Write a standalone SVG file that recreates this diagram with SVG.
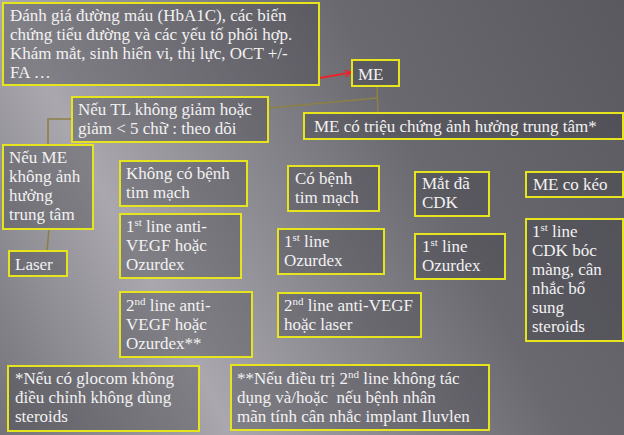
<svg xmlns="http://www.w3.org/2000/svg" width="624" height="435" viewBox="0 0 624 435">
<defs>
<linearGradient id="bg" gradientUnits="userSpaceOnUse" x1="-179" y1="95" x2="488" y2="-258">
<stop offset="0" stop-color="#737279"/>
<stop offset="0.27" stop-color="#aaa8ae"/>
<stop offset="0.45" stop-color="#8c8a91"/>
<stop offset="0.66" stop-color="#6a6970"/>
<stop offset="1" stop-color="#5a5960"/>
</linearGradient>
<marker id="arr" viewBox="0 0 10 10" refX="9" refY="5" markerWidth="7" markerHeight="7" orient="auto" markerUnits="userSpaceOnUse">
<path d="M0,0 L10,5 L0,10" fill="none" stroke="#e8262a" stroke-width="1.8"/>
</marker>
</defs>
<style>
.box{fill:#3e3e48;fill-opacity:0.38;stroke:#e6e41c;stroke-width:2}
.t text{font-size:17px;fill:#f2f2f2}
.sup{font-size:11px}
.conn{fill:none;stroke:#8e7f45;stroke-width:1.6}
</style>
<rect width="624" height="435" fill="url(#bg)"/>

<g id="connectors">
<line class="conn" x1="377" y1="86" x2="378" y2="113"/>
<line class="conn" x1="377" y1="98" x2="269" y2="108"/>
<polyline class="conn" points="72,119 48,119 48,145"/>
<line class="conn" x1="49" y1="229" x2="47" y2="251"/>
<line x1="320" y1="78" x2="351" y2="72.5" stroke="#e8262a" stroke-width="1.8" marker-end="url(#arr)"/>
</g>

<g class="t" font-family="'Liberation Serif', 'Times New Roman', serif">
<g id="n-danhgia">
<rect class="box" x="3" y="3" width="316" height="82"/>
<text x="10" y="21">Đánh giá đường máu (HbA1C), các biến</text>
<text x="10" y="40">chứng tiểu đường và các yếu tố phối hợp.</text>
<text x="10" y="59">Khám mắt, sinh hiển vi, thị lực, OCT +/-</text>
<text x="10" y="78">FA …</text>
</g>

<g id="n-me">
<rect class="box" x="352" y="60" width="47" height="26"/>
<text x="358" y="80">ME</text>
</g>

<g id="n-me-trieuchung">
<rect class="box" x="304" y="113" width="319" height="26"/>
<text x="314" y="132">ME có triệu chứng ảnh hưởng trung tâm*</text>
</g>

<g id="n-tl">
<rect class="box" x="72" y="97" width="196" height="45"/>
<text x="78" y="115">Nếu TL không giảm hoặc</text>
<text x="78" y="134">giảm &lt; 5 chữ : theo dõi</text>
</g>

<g id="n-me-khong">
<rect class="box" x="3" y="145" width="90" height="84"/>
<text x="9" y="163">Nếu ME</text>
<text x="9" y="182">không ảnh</text>
<text x="9" y="201">hưởng</text>
<text x="9" y="220">trung tâm</text>
</g>

<g id="n-laser">
<rect class="box" x="9" y="251" width="58" height="25"/>
<text x="15" y="270">Laser</text>
</g>

<g id="n-khong-tim">
<rect class="box" x="120" y="161" width="127" height="45"/>
<text x="126" y="179">Không có bệnh</text>
<text x="126" y="198">tim mạch</text>
</g>

<g id="n-1st-antivegf">
<rect class="box" x="120" y="214" width="121" height="64"/>
<text x="126" y="232">1<tspan class="sup" dy="-6">st</tspan><tspan dy="6"> line anti-</tspan></text>
<text x="126" y="251">VEGF hoặc</text>
<text x="126" y="270">Ozurdex</text>
</g>

<g id="n-2nd-antivegf">
<rect class="box" x="120" y="292" width="132" height="65"/>
<text x="126" y="311">2<tspan class="sup" dy="-6">nd</tspan><tspan dy="6"> line anti-</tspan></text>
<text x="126" y="330">VEGF hoặc</text>
<text x="126" y="349">Ozurdex**</text>
</g>

<g id="n-co-tim">
<rect class="box" x="288" y="166" width="91" height="45"/>
<text x="295" y="184">Có bệnh</text>
<text x="295" y="203">tim mạch</text>
</g>

<g id="n-1st-ozurdex-a">
<rect class="box" x="278" y="229" width="106" height="45"/>
<text x="284" y="247">1<tspan class="sup" dy="-6">st</tspan><tspan dy="6"> line</tspan></text>
<text x="284" y="266">Ozurdex</text>
</g>

<g id="n-2nd-laser">
<rect class="box" x="278" y="293" width="143" height="44"/>
<text x="284" y="311">2<tspan class="sup" dy="-6">nd</tspan><tspan dy="6"> line anti-VEGF</tspan></text>
<text x="284" y="330">hoặc laser</text>
</g>

<g id="n-mat-cdk">
<rect class="box" x="415" y="172" width="74" height="44"/>
<text x="422" y="189">Mắt đã</text>
<text x="422" y="208">CDK</text>
</g>

<g id="n-1st-ozurdex-b">
<rect class="box" x="415" y="234" width="90" height="45"/>
<text x="422" y="252">1<tspan class="sup" dy="-6">st</tspan><tspan dy="6"> line</tspan></text>
<text x="422" y="271">Ozurdex</text>
</g>

<g id="n-me-cokeo">
<rect class="box" x="526" y="172" width="97" height="25"/>
<text x="533" y="190">ME co kéo</text>
</g>

<g id="n-1st-cdk">
<rect class="box" x="526" y="219" width="97" height="122"/>
<text x="532" y="237">1<tspan class="sup" dy="-6">st</tspan><tspan dy="6"> line</tspan></text>
<text x="532" y="256">CDK bóc</text>
<text x="532" y="275">màng, cân</text>
<text x="532" y="294">nhắc bổ</text>
<text x="532" y="313">sung</text>
<text x="532" y="332">steroids</text>
</g>

<g id="n-note1">
<rect class="box" x="8" y="366" width="191" height="65"/>
<text x="15" y="384">*Nếu có glocom không</text>
<text x="15" y="403">điều chỉnh không dùng</text>
<text x="15" y="422">steroids</text>
</g>

<g id="n-note2">
<rect class="box" x="231" y="365" width="258" height="65"/>
<text x="237" y="384">**Nếu điều trị 2<tspan class="sup" dy="-6">nd</tspan><tspan dy="6"> line không tác</tspan></text>
<text x="237" y="403">dụng và/hoặc&#160; nếu bệnh nhân</text>
<text x="237" y="422">mãn tính cân nhắc implant Iluvlen</text>
</g>
</g>
</svg>
